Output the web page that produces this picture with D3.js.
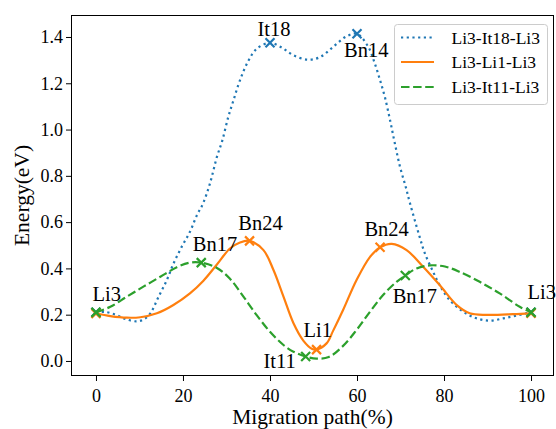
<!DOCTYPE html>
<html>
<head>
<meta charset="utf-8">
<script src="https://cdn.jsdelivr.net/npm/d3@7"></script>
<style>
  html, body { margin: 0; padding: 0; background: #fff; }
  text { font-family: "Liberation Serif", "Times New Roman", serif; fill: #000; }
</style>
</head>
<body>
<svg id="chart" width="556" height="429"></svg>
<script>
// ---- data ----
const seriesNames = ["Li3-It18-Li3", "Li3-Li1-Li3", "Li3-It11-Li3"];

// curve traces [x %, energy eV]
const curveIt18 = [[0,0.21],[2,0.212],[4.5,0.2],[7,0.18],[9.4,0.171],[11,0.18],[12.5,0.206],[14.4,0.278],[16.3,0.35],[17.8,0.42],[19.7,0.493],[21.6,0.558],[23.2,0.63],[24.6,0.68],[26.2,0.767],[27.8,0.882],[29,0.95],[30.4,1.054],[31.6,1.126],[33.1,1.213],[35.0,1.296],[37.0,1.350],[40,1.375],[42.7,1.354],[45.4,1.321],[48.7,1.302],[51.5,1.313],[54.5,1.357],[57.6,1.403],[60,1.414],[62.6,1.357],[64.1,1.285],[65.3,1.213],[66.4,1.141],[67.6,1.040],[68.7,0.940],[69.9,0.838],[71.2,0.752],[72.2,0.68],[74.4,0.536],[75.6,0.465],[77.5,0.385],[79.0,0.328],[81.3,0.263],[84.4,0.213],[87.5,0.184],[90.5,0.174],[93.6,0.184],[96.6,0.196],[100,0.21]];
const curveLi1 = [[0,0.205],[3.3,0.194],[7.1,0.187],[10.2,0.189],[14.0,0.206],[17.8,0.242],[21.6,0.292],[24.7,0.347],[27.8,0.417],[30.8,0.486],[33.1,0.512],[35.3,0.519],[38.5,0.479],[40.8,0.393],[43.1,0.278],[45.4,0.163],[47.7,0.087],[49.6,0.053],[50.7,0.05],[53.0,0.076],[54.5,0.13],[56.8,0.22],[59.9,0.35],[63.0,0.45],[65.3,0.491],[68.0,0.506],[71.4,0.479],[75.2,0.407],[79.0,0.328],[83.0,0.24],[85.9,0.206],[89.8,0.199],[95.9,0.202],[100,0.206]];
const curveIt11 = [[0,0.21],[3.3,0.234],[7.1,0.278],[10.9,0.321],[14.8,0.364],[18.6,0.405],[21.6,0.425],[24.2,0.425],[27.8,0.402],[30.8,0.355],[33.9,0.278],[36.9,0.199],[40.0,0.126],[43.1,0.069],[45.4,0.04],[48.2,0.019],[50.7,0.01],[53.5,0.017],[56.8,0.065],[59.9,0.134],[63.0,0.213],[66.0,0.285],[69.1,0.342],[71.1,0.369],[73.7,0.4],[76.7,0.413],[80.2,0.408],[83.6,0.385],[88.2,0.342],[92.8,0.292],[97.4,0.234],[100,0.21]];

// marked states
const markIt18X = [0, 40, 60, 100];
const markIt18Y = [0.21, 1.375, 1.414, 0.21];
const markLi1X = [0, 35.3, 50.7, 65.3, 100];
const markLi1Y = [0.205, 0.519, 0.049, 0.491, 0.206];
const markIt11X = [0, 24.2, 48.2, 71.1, 100];
const markIt11Y = [0.21, 0.425, 0.019, 0.369, 0.21];

// annotation texts and their anchor (data coords, left/baseline)
const labelText = ["Li3", "Bn17", "Bn24", "Li1", "It11", "Bn24", "Bn17", "Li3", "It18", "Bn14"];
const labelX = [-0.78, 22.27, 32.7, 47.7, 38.5, 61.7, 68.2, 99.2, 37.1, 57.0];
const labelY = [0.259, 0.476, 0.568, 0.105, -0.031, 0.539, 0.249, 0.266, 1.403, 1.313];

const xTicks = [0, 20, 40, 60, 80, 100];
const yTicks = [0.0, 0.2, 0.4, 0.6, 0.8, 1.0, 1.2, 1.4];

// ---- drawing ----
const colors = ["#1f77b4", "#ff7f0e", "#2ca02c"];
const dashes = ["2.2,3.5", null, "8.5,3.6"];
const svg = d3.select("#chart");
const L = 71, R = 554, T = 15, B = 376;
const x = d3.scaleLinear().domain([-5.74, 105.28]).range([L, R]);
const y = d3.scaleLinear().domain([-0.065, 1.495]).range([B, T]);

// axes
const xAxis = d3.axisBottom(x).tickValues(xTicks).tickFormat(d3.format("d")).tickSizeOuter(0).tickSize(5).tickPadding(4);
const yAxis = d3.axisLeft(y).tickValues(yTicks).tickFormat(d3.format(".1f")).tickSizeOuter(0).tickSize(5).tickPadding(3);
const gx = svg.append("g").attr("transform", `translate(0,${B})`).call(xAxis);
const gy = svg.append("g").attr("transform", `translate(${L},0)`).call(yAxis);
[gx, gy].forEach(g => {
  g.select(".domain").remove();
  g.selectAll(".tick line").attr("stroke", "#000").attr("stroke-width", 1);
  g.selectAll(".tick text").style("font-family", '"Liberation Serif", serif').style("font-size", "18px").attr("fill", "#000");
});
gx.selectAll(".tick text").attr("dy", "0.95em");

// frame
svg.append("rect").attr("x", L + 0.5).attr("y", T + 0.5).attr("width", R - L - 1).attr("height", B - T - 1)
  .attr("fill", "none").attr("stroke", "#000").attr("stroke-width", 1);

// axis labels
svg.append("text").attr("x", (L + R) / 2).attr("y", 424).attr("text-anchor", "middle")
  .style("font-size", "21.5px").text("Migration path(%)");
svg.append("text").attr("transform", `translate(28.5,${(T + B) / 2}) rotate(-90)`).attr("text-anchor", "middle")
  .style("font-size", "21.5px").text("Energy(eV)");

// curves
const line = d3.line().x(d => x(d[0])).y(d => y(d[1])).curve(d3.curveCatmullRom.alpha(0.5));
const curves = [curveIt18, curveLi1, curveIt11];
const marksX = [markIt18X, markLi1X, markIt11X];
const marksY = [markIt18Y, markLi1Y, markIt11Y];
const ms = 4.5;
curves.forEach((c, i) => {
  const p = svg.append("path").datum(c).attr("d", line).attr("fill", "none")
    .attr("stroke", colors[i]).attr("stroke-width", 2.2);
  if (dashes[i]) p.attr("stroke-dasharray", dashes[i]);
  const pts = marksX[i].map((v, k) => [v, marksY[i][k]]);
  svg.append("g").selectAll("path").data(pts).join("path")
    .attr("d", d => {
      const cx = x(d[0]), cy = y(d[1]);
      return `M${cx - ms},${cy - ms}L${cx + ms},${cy + ms}M${cx - ms},${cy + ms}L${cx + ms},${cy - ms}`;
    })
    .attr("stroke", colors[i]).attr("stroke-width", 2.2).attr("fill", "none");
});

// annotations
svg.append("g").selectAll("text").data(labelText).join("text")
  .attr("x", (d, i) => x(labelX[i])).attr("y", (d, i) => y(labelY[i]))
  .style("font-size", "20.5px").text(d => d);

// legend
const lg = svg.append("g");
lg.append("rect").attr("x", 394.5).attr("y", 24.5).attr("width", 153).attr("height", 80).attr("rx", 3)
  .attr("fill", "#fff").attr("fill-opacity", 0.8).attr("stroke", "#ccc").attr("stroke-width", 1);
const rowY = [37.5, 62, 87];
seriesNames.forEach((n, i) => {
  const l = lg.append("line").attr("x1", 401).attr("x2", 434).attr("y1", rowY[i]).attr("y2", rowY[i])
    .attr("stroke", colors[i]).attr("stroke-width", 2.2);
  if (dashes[i]) l.attr("stroke-dasharray", dashes[i]);
  lg.append("text").attr("x", 451.5).attr("y", rowY[i] + 6.3).style("font-size", "17.5px").text(n);
});
</script>
</body>
</html>
